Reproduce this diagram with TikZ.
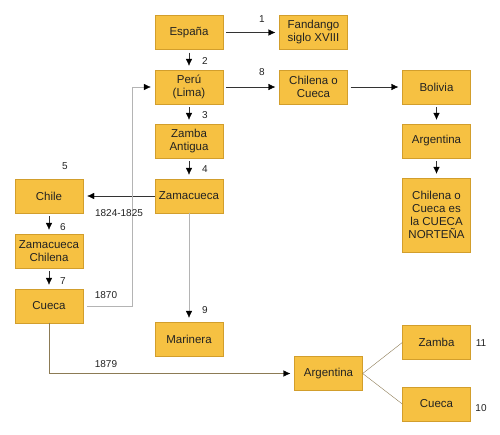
\documentclass[tikz,border=0pt]{standalone}
\usepackage{fontspec}
\setmainfont{Liberation Sans}
\usetikzlibrary{arrows.meta}
\definecolor{boxfill}{HTML}{F6C142}
\definecolor{boxline}{HTML}{D29E2C}
\definecolor{greyline}{HTML}{B4B4B4}
\definecolor{brownline}{HTML}{8C7B55}
\definecolor{txt}{HTML}{222222}
\begin{document}
\begin{tikzpicture}[x=1pt,y=-1pt,
  box/.style={draw=boxline,fill=boxfill,minimum width=68pt,minimum height=34pt,
    inner sep=1pt,align=center,text=txt,font=\fontsize{11.5}{13}\selectfont},
  num/.style={text=txt,inner sep=0pt,font=\fontsize{10}{12}\selectfont},
  tip/.style={-{Latex[length=7pt,width=6.5pt,color=black]}},
  arr/.style={tip,draw=black!80,shorten >=4pt,shorten <=3pt}]
\useasboundingbox (0,0) rectangle (500,434);

% boxes
\node[box] (espana) at (189,32.5) {España};
\node[box] (fandango) at (313.5,32.5) {Fandango\\siglo XVIII};
\node[box] (peru) at (189,87) {Perú\\(Lima)};
\node[box] (chilena) at (313.5,87) {Chilena o\\Cueca};
\node[box] (bolivia) at (436.5,87) {Bolivia};
\node[box] (argnorte) at (436.5,141) {Argentina};
\node[box,minimum height=74pt] (norte) at (436.5,215) {Chilena o\\Cueca es\\la CUECA\\NORTEÑA};
\node[box] (zamba) at (189,141) {Zamba\\Antigua};
\node[box] (zamacueca) at (189,196) {Zamacueca};
\node[box] (chile) at (49,196) {Chile};
\node[box] (zchilena) at (49,251) {Zamacueca\\Chilena};
\node[box] (cueca) at (49,306) {Cueca};
\node[box] (marinera) at (189,339) {Marinera};
\node[box] (argsur) at (328.5,373.5) {Argentina};
\node[box] (zambader) at (436.5,342.5) {Zamba};
\node[box] (cuecader) at (436.5,404) {Cueca};

% arrows
\draw[arr] (espana) -- (fandango);
\draw[arr] (espana) -- (peru);
\draw[arr] (peru) -- (chilena);
\draw[arr] (chilena) -- (bolivia);
\draw[arr] (bolivia) -- (argnorte);
\draw[arr] (argnorte) -- (norte);
\draw[arr] (peru) -- (zamba);
\draw[arr] (zamba) -- (zamacueca);
\draw[arr,shorten <=0pt] (zamacueca) -- (chile);
\draw[arr] (chile) -- (zchilena);
\draw[arr] (zchilena) -- (cueca);
\draw[tip,greyline,shorten >=4pt] (zamacueca) -- (marinera);
\draw[tip,greyline,shorten >=4pt,shorten <=4pt] (cueca.east) -- (132,306) |- (peru.west);
\draw[tip,brownline,shorten >=4pt] (cueca.south) |- (argsur.west);
\draw[brownline] (argsur.east) -- (zambader.west);
\draw[brownline] (argsur.east) -- (cuecader.west);

% labels
\node[num] (n1) at (262,19) {1};
\node[num] (n2) at (205,61) {2};
\node[num] (n3) at (205,115) {3};
\node[num] (n4) at (205,169) {4};
\node[num] (n5) at (65,166) {5};
\node[num] (n6) at (63,227) {6};
\node[num] (n7) at (63,281) {7};
\node[num] (n8) at (262,72) {8};
\node[num] (n9) at (205,310) {9};
\node[num] (n10) at (481,408) {10};
\node[num] (n11) at (481,343) {11};
\node[num] (y1) at (119,213) {1824-1825};
\node[num] (y2) at (106,295) {1870};
\node[num] (y3) at (106,364) {1879};
\end{tikzpicture}
\end{document}
